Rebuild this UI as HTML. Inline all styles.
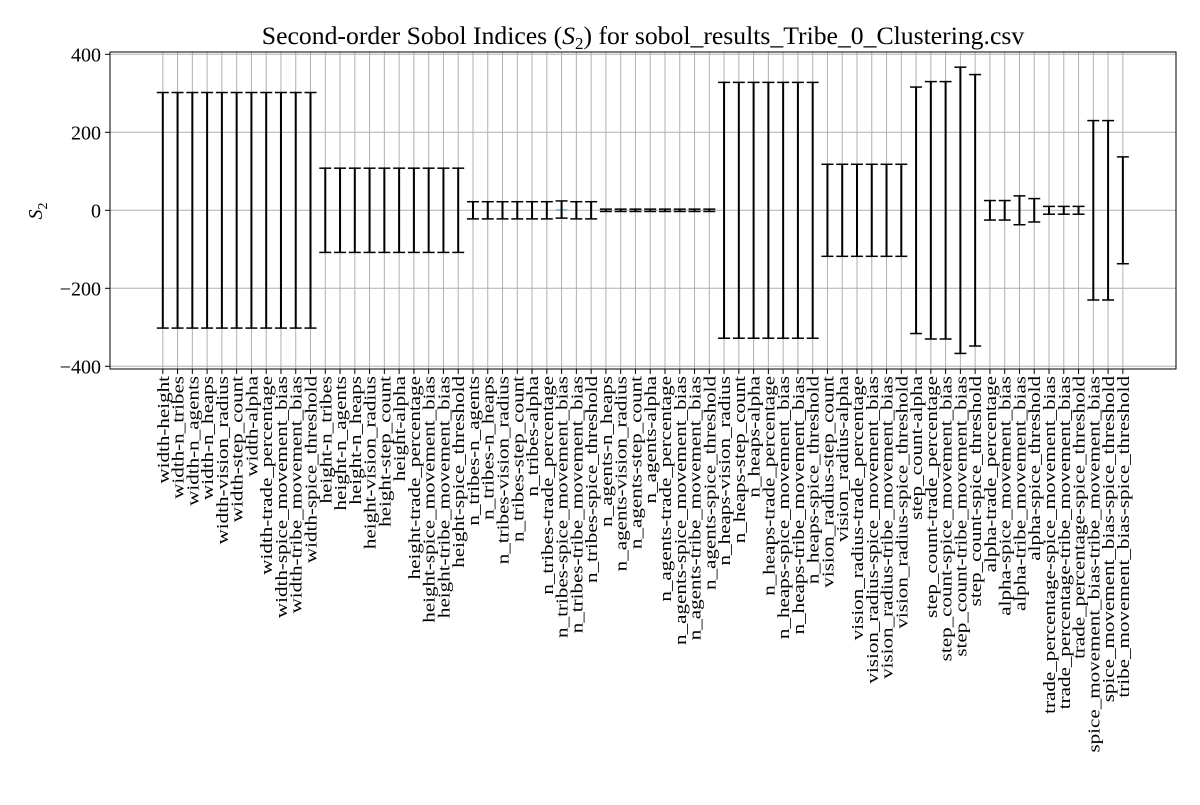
<!DOCTYPE html>
<html><head><meta charset="utf-8"><style>
body{margin:0;background:#fff;}
svg text{font-family:"Liberation Serif",serif;fill:#000;}
</style></head><body>
<svg id="chart" width="1200" height="800" xmlns="http://www.w3.org/2000/svg">
<text x="643" y="44" font-size="25.7" text-anchor="middle">Second-order Sobol Indices (<tspan font-style="italic">S</tspan><tspan font-size="17" dy="5">2</tspan><tspan dy="-5">) for sobol_results_Tribe_0_Clustering.csv</tspan></text>
<text transform="translate(42,211) rotate(-90)" font-size="20" text-anchor="middle"><tspan font-style="italic">S</tspan><tspan font-size="14" dy="5">2</tspan></text>
<g id="grid"></g><g id="marks"></g><g id="axes"></g>
</svg>
<script>
const params=["width","height","n_tribes","n_agents","n_heaps","vision_radius","step_count","alpha","trade_percentage","spice_movement_bias","tribe_movement_bias","spice_threshold"];
const categories=[];
for(let i=0;i<params.length;i++)for(let j=i+1;j<params.length;j++)categories.push(params[i]+"-"+params[j]);
const values=[0,0,0,0,0,0,0,0,0,0,0, 0,0,0,0,0,0,0,0,0,0, 0,0,0,0,0,0,2,0,0, 0,0,0,0,0,0,0,0, 0,0,0,0,0,0,0, 0,0,0,0,0,0, 0,0,0,0,0, 0,0,0,0, 0,0,0, 0,0, 0];
const errors=[302,302,302,302,302,302,302,302,302,302,302, 108,108,108,108,108,108,108,108,108,108, 22,22,22,22,22,22,22,22,22, 3,3,3,3,3,3,3,3, 328,328,328,328,328,328,328, 118,118,118,118,118,118, 316,330,330,367,348, 25,25,37,30, 10,10,10, 230,230, 137];
const yTicks=[-400,-200,0,200,400];
const L=110,R=1176,T=52,B=369;
const y=v=>210.3-v*0.39;
const x=i=>162.8+i*14.77;
const NS="http://www.w3.org/2000/svg";
function mk(tag,attrs,parent){const e=document.createElementNS(NS,tag);for(const k in attrs)e.setAttribute(k,attrs[k]);document.getElementById(parent).appendChild(e);return e;}
yTicks.forEach(t=>{
 const g=mk("line",{x1:L,x2:R,y1:y(t),y2:y(t),stroke:"#b0b0b0","stroke-width":1},"grid");
 
 
 const tk=mk("line",{x1:L-5,x2:L,y1:y(t),y2:y(t),stroke:"#000"},"axes");
 
 
 const lb=mk("text",{x:L-9,y:y(t)+7,"font-size":20,"text-anchor":"end"},"axes");
 lb.textContent=(t<0?"\u2212"+(-t):t);
 
 
});
categories.forEach((c,i)=>{
 const gx=x(i);
 const g=mk("line",{x1:gx,x2:gx,y1:T,y2:B,stroke:"#b0b0b0","stroke-width":1},"grid");
 
 
 const v=values[i],e=errors[i];
 const bar=mk("rect",{x:gx-5.5,y:Math.min(y(v),y(0)),width:11,height:Math.max(Math.abs(y(v)-y(0)),0),fill:"#1f77b4"},"marks");
 
 
 const eb=mk("line",{x1:gx,x2:gx,y1:y(v+e),y2:y(v-e),stroke:"#000","stroke-width":2},"marks");
 
 
 [v+e,v-e].forEach(cv=>{
  const cap=mk("line",{x1:gx-6,x2:gx+6,y1:y(cv),y2:y(cv),stroke:"#000","stroke-width":1.5},"marks");
  
  
 });
 const tk=mk("line",{x1:gx,x2:gx,y1:B,y2:B+5,stroke:"#000"},"axes");
 
 
 const lb=mk("text",{transform:`translate(${gx+6},${B+7}) rotate(-90) scale(1.24,1)`,"font-size":17,"text-anchor":"end"},"axes");
 lb.textContent=c;
 
 
});
const fr=mk("rect",{x:L,y:T,width:R-L,height:B-T,fill:"none",stroke:"#000","stroke-width":1},"axes");


</script>
</body></html>
